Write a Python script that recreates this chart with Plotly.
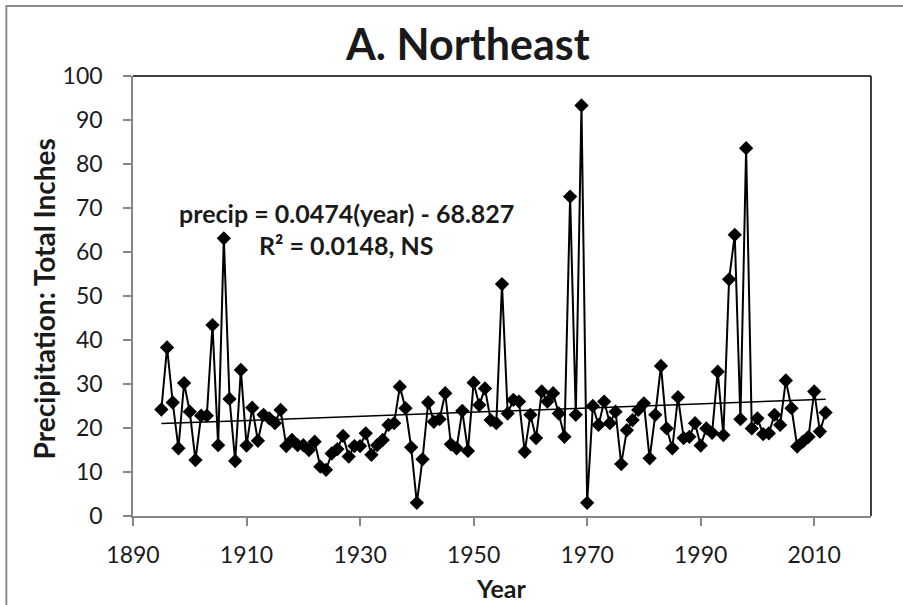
import plotly.graph_objects as go

years = list(range(1895, 2013))
precip = [
    24.2, 38.3, 25.8, 15.4, 30.2, 23.7, 12.7, 22.8, 22.8, 43.4,   # 1895-1904
    16.1, 63.1, 26.6, 12.5, 33.2, 16.0, 24.6, 17.1, 23.0, 22.2,   # 1905-1914
    21.1, 24.1, 15.9, 17.3, 16.1, 16.1, 15.0, 16.9, 11.2, 10.5,   # 1915-1924
    14.2, 15.2, 18.2, 13.5, 15.9, 15.9, 18.8, 13.9, 16.1, 17.3,   # 1925-1934
    20.7, 21.1, 29.4, 24.5, 15.6, 3.0, 12.9, 25.8, 21.4, 22.0,    # 1935-1944
    27.9, 16.3, 15.4, 23.9, 14.8, 30.3, 25.2, 29.0, 21.8, 21.1,   # 1945-1954
    52.7, 23.3, 26.4, 26.0, 14.6, 23.0, 17.7, 28.3, 26.0, 27.9,   # 1955-1964
    23.3, 18.0, 72.6, 23.0, 93.3, 3.0, 25.0, 20.7, 26.0, 21.1,    # 1965-1974
    23.7, 11.8, 19.5, 21.8, 24.1, 25.6, 13.1, 23.0, 34.1, 19.9,   # 1975-1984
    15.4, 27.0, 17.7, 18.0, 21.1, 16.0, 19.9, 18.9, 32.8, 18.4,   # 1985-1994
    53.8, 63.9, 22.0, 83.6, 19.9, 22.2, 18.6, 18.8, 23.0, 20.7,   # 1995-2004
    30.8, 24.5, 15.8, 16.9, 18.0, 28.3, 19.2, 23.5,               # 2005-2012
]
trend_slope = 0.0474
trend_intercept = -68.827
trend_years = [years[0], years[-1]]
trend_vals = [trend_slope * y + trend_intercept for y in trend_years]

x_ticks = [1890, 1910, 1930, 1950, 1970, 1990, 2010]
y_ticks = [0, 10, 20, 30, 40, 50, 60, 70, 80, 90, 100]

FONT = "Lato"
TXT = "#1a1a1a"

fig = go.Figure()
fig.add_trace(go.Scatter(
    x=years, y=precip, mode="lines+markers",
    line=dict(color="black", width=2),
    marker=dict(symbol="diamond", size=11, color="black"),
    showlegend=False, cliponaxis=False,
))
fig.add_trace(go.Scatter(
    x=trend_years, y=trend_vals, mode="lines",
    line=dict(color="black", width=1.5), showlegend=False,
))

fig.update_layout(
    width=903, height=605, autosize=False,
    paper_bgcolor="white", plot_bgcolor="white",
    margin=dict(l=133, r=32, t=76, b=89),
    font=dict(family=FONT, color=TXT),
    title=dict(text="<b>A. Northeast</b>", x=0.4537, xref="paper", xanchor="center",
               y=0.926, yref="container", yanchor="middle",
               font=dict(family=FONT, size=43, color=TXT)),
    xaxis=dict(range=[1890, 2020], tickvals=x_ticks, ticktext=[str(v) for v in x_ticks],
               showgrid=False, zeroline=False, showline=True, linecolor="#868686", linewidth=1.5,
               ticks="outside", ticklen=8, tickcolor="#868686", tickwidth=1.5,
               ticklabelstandoff=10,
               tickfont=dict(family=FONT, size=23, color=TXT)),
    yaxis=dict(range=[0, 100], tickvals=y_ticks, ticktext=[str(v) for v in y_ticks],
               showgrid=False, zeroline=False, showline=True, linecolor="#868686", linewidth=1.5,
               ticks="outside", ticklen=8, tickcolor="#868686", tickwidth=1.5,
               ticklabelstandoff=16,
               tickfont=dict(family=FONT, size=23, color=TXT)),
    shapes=[
        dict(type="line", xref="paper", yref="paper", x0=0, x1=1, y0=1, y1=1,
             line=dict(color="black", width=1.5)),
        dict(type="line", xref="paper", yref="paper", x0=1, x1=1, y0=0, y1=1,
             line=dict(color="black", width=1.5)),
        dict(type="rect", xref="paper", yref="paper", x0=-0.1716, x1=1.06, y0=-0.23, y1=1.159,
             line=dict(color="#8c8c8c", width=2)),
    ],
    annotations=[
        dict(text="<b>precip = 0.0474(year) - 68.827</b>", xref="paper", yref="paper",
             x=(347 - 133.5) / 737.2, y=(516 - 213) / 440, xanchor="center", yanchor="middle",
             showarrow=False, font=dict(family=FONT, size=25, color=TXT)),
        dict(text="<b>R² = 0.0148, NS</b>", xref="paper", yref="paper",
             x=(346 - 133.5) / 737.2, y=(516 - 245) / 440, xanchor="center", yanchor="middle",
             showarrow=False, font=dict(family=FONT, size=25, color=TXT)),
        dict(text="<b>Precipitation: Total Inches</b>", xref="paper", yref="paper",
             x=(45 - 133.5) / 737.2, y=(516 - 299) / 440, xanchor="center", yanchor="middle",
             textangle=-90, showarrow=False, font=dict(family=FONT, size=28, color=TXT)),
        dict(text="<b>Year</b>", xref="paper", yref="paper",
             x=(501 - 133.5) / 737.2, y=(516 - 588) / 440, xanchor="center", yanchor="middle",
             showarrow=False, font=dict(family=FONT, size=25, color=TXT)),
    ],
)

fig.write_html("out.html")
